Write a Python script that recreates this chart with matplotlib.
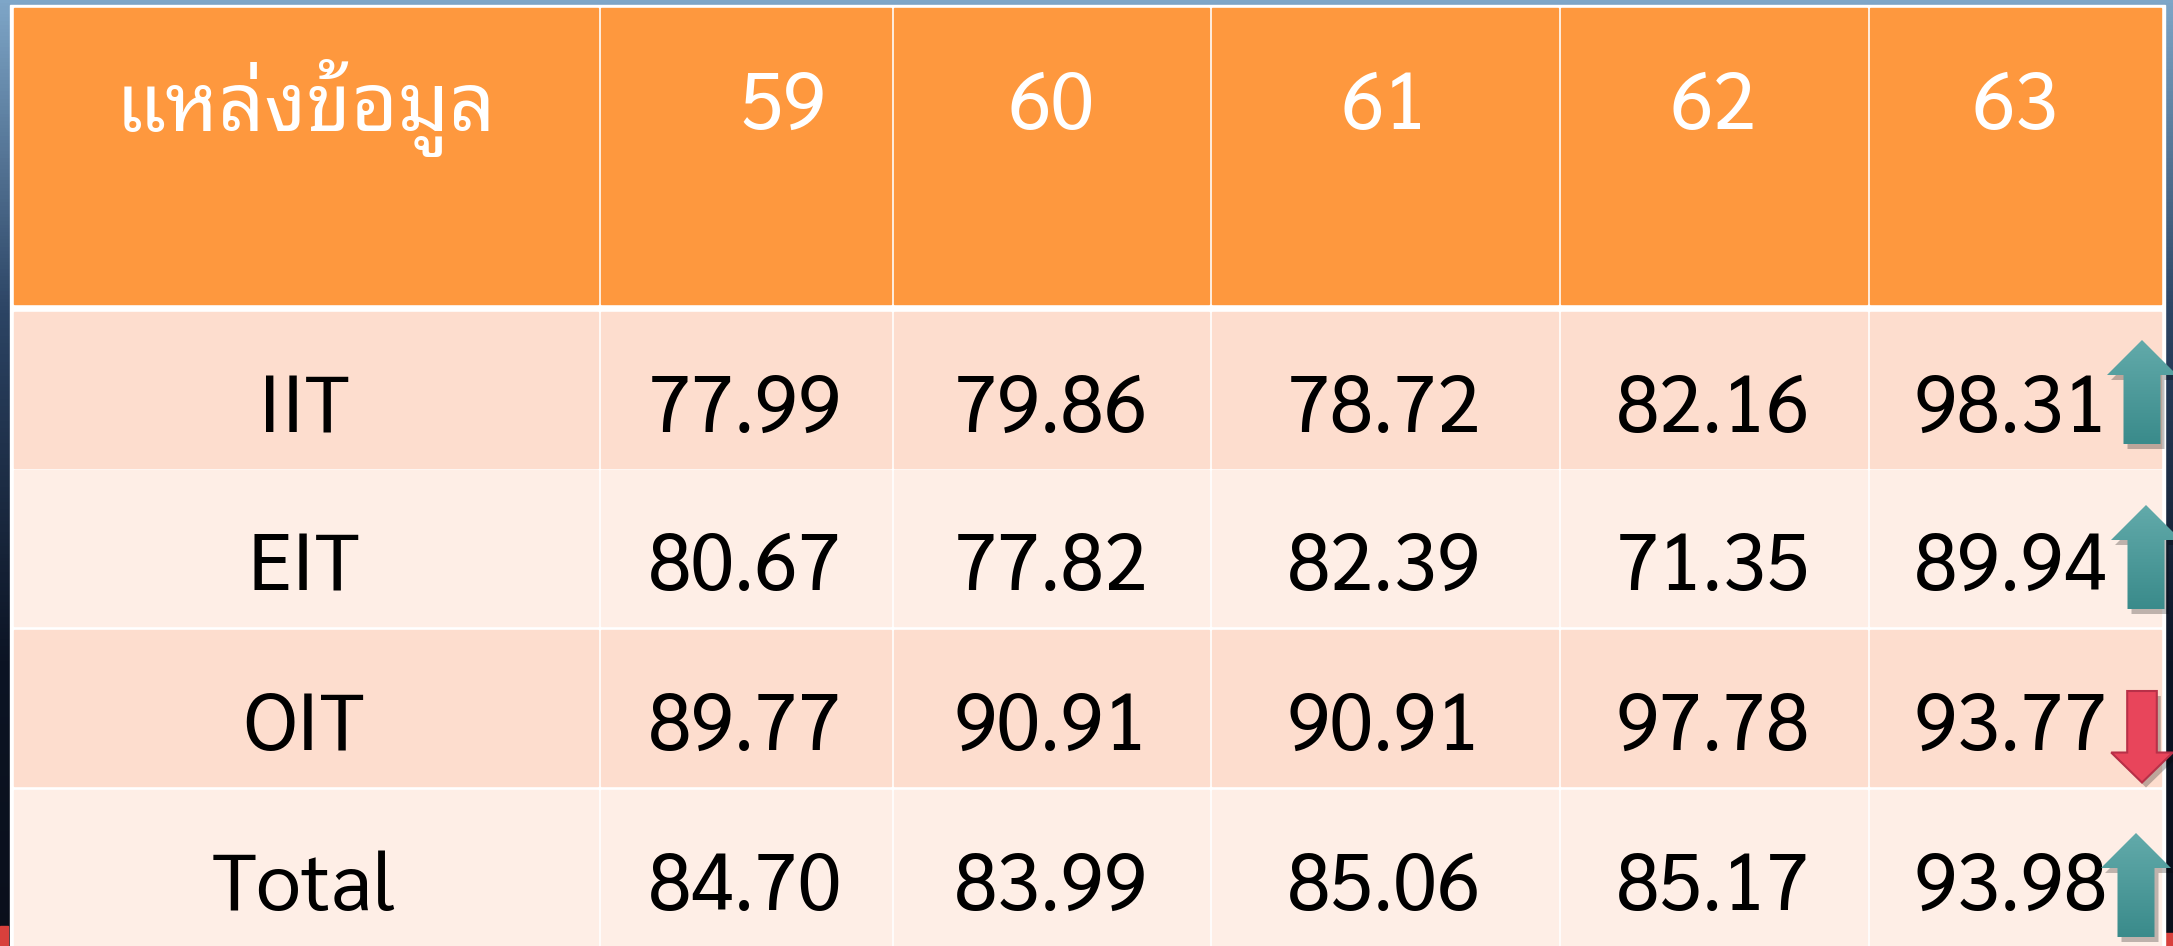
import numpy as np
import matplotlib
matplotlib.use("Agg")
import matplotlib.pyplot as plt
from matplotlib.colors import LinearSegmentedColormap
from matplotlib.patches import Rectangle, Polygon

# data
header_label = "แหล่งข้อมูล"
years = ["59", "60", "61", "62", "63"]
sources = ["IIT", "EIT", "OIT", "Total"]
y59 = [77.99, 80.67, 89.77, 84.70]
y60 = [79.86, 77.82, 90.91, 83.99]
y61 = [78.72, 82.39, 90.91, 85.06]
y62 = [82.16, 71.35, 97.78, 85.17]
y63 = [98.31, 89.94, 93.77, 93.98]
columns = [y59, y60, y61, y62, y63]

ORANGE = "#FE983E"
ROW_DARK = "#FDDDCE"
ROW_LIGHT = "#FEEEE6"
TEAL_TOP, TEAL_BOT = "#62AAAA", "#3A8B8B"
RED = "#E8455B"

W, H = 2173, 946
fig = plt.figure(figsize=(W / 100, H / 100), dpi=100)
ax = fig.add_axes([0, 0, 1, 1])
ax.set_xlim(0, W)
ax.set_ylim(H, 0)
ax.axis("off")

# slide background gradient
bg = LinearSegmentedColormap.from_list(
    "bg", [(0, "#7EA6C8"), (0.33, "#2C4464"), (0.7, "#0C1424"), (1, "#0A0F1B")])
ax.imshow(np.linspace(0, 1, 256).reshape(-1, 1), cmap=bg, aspect="auto",
          extent=(0, W, H, 0), zorder=0)
ax.add_patch(Rectangle((0, 926), 8, 20, color="#D8403C", zorder=1))
ax.add_patch(Rectangle((2164, 933), 9, 13, color="#D8403C", zorder=1))

# table frame
xe = [12, 599, 892, 1210, 1559, 1868, 2162]
row_tops = [312, 470, 630, 790]
row_h = 156
ax.add_patch(Rectangle((9.5, 5.5), 2155, H, color="white", zorder=1))
for i in range(6):
    ax.add_patch(Rectangle((xe[i] + 1.5, 8), xe[i + 1] - xe[i] - 3, 296,
                           color=ORANGE, zorder=2))
    for r, top in enumerate(row_tops):
        ax.add_patch(Rectangle((xe[i] + 1.5, top), xe[i + 1] - xe[i] - 3, row_h,
                               color=ROW_DARK if r % 2 == 0 else ROW_LIGHT, zorder=2))

thai = ["Noto Sans Thai Looped", "Sarabun"]
num = ["Sarabun", "DejaVu Sans"]
ax.text(306, 131, header_label, family=thai, fontsize=58,
        color="white", ha="center", va="baseline", zorder=3)
hx = [783, 1051, 1384, 1713, 2015]
for x, yr in zip(hx, years):
    ax.text(x, 129, yr, family=num, fontsize=57, color="white",
            ha="center", va="baseline", zorder=3)

cx = [304, 745, 1051, 1384, 1713, 2011]
for r, top in enumerate(row_tops):
    base = top + 120
    ax.text(cx[0], base, sources[r], family=num, fontsize=58, color="black",
            ha="center", va="baseline", zorder=3)
    for c, vals in enumerate(columns):
        ax.text(cx[c + 1], base, f"{vals[r]:.2f}", family=num, fontsize=57,
                color="black", ha="center", va="baseline", zorder=3)

# trend arrows (last year vs previous)
arrow_x = [2142, 2146, 2142, 2136]
arrow_off = [28, 35, 61, 43]
shaft_w, head_w, head_l, length = 37, 70, 35, 104


def arrow_poly(xc, y0, up):
    if up:
        pts = [(xc, y0), (xc + head_w / 2, y0 + head_l), (xc + shaft_w / 2, y0 + head_l),
               (xc + shaft_w / 2, y0 + length), (xc - shaft_w / 2, y0 + length),
               (xc - shaft_w / 2, y0 + head_l), (xc - head_w / 2, y0 + head_l)]
    else:
        yb = y0 + length * 0.88
        pts = [(xc - shaft_w * 0.4, y0), (xc + shaft_w * 0.4, y0),
               (xc + shaft_w * 0.4, yb - 30), (xc + head_w * 0.44, yb - 30),
               (xc, yb), (xc - head_w * 0.44, yb - 30), (xc - shaft_w * 0.4, yb - 30)]
    return np.array(pts)


grad = LinearSegmentedColormap.from_list("teal", [TEAL_TOP, TEAL_BOT])
for r, top in enumerate(row_tops):
    up = y63[r] > y62[r]
    pts = arrow_poly(arrow_x[r], top + arrow_off[r], up)
    shadow = Polygon(pts + [4, 5], closed=True, color="black", alpha=0.25,
                     lw=0, zorder=4)
    ax.add_patch(shadow)
    if up:
        poly = Polygon(pts, closed=True, facecolor="none", lw=0, zorder=5)
        ax.add_patch(poly)
        im = ax.imshow(np.linspace(0, 1, 64).reshape(-1, 1), cmap=grad,
                       aspect="auto", zorder=5,
                       extent=(pts[:, 0].min(), pts[:, 0].max(),
                               pts[:, 1].max(), pts[:, 1].min()))
        im.set_clip_path(poly)
    else:
        ax.add_patch(Polygon(pts, closed=True, facecolor=RED,
                             edgecolor="#B83048", lw=1.5, zorder=5))

ax.set_xlim(0, W)
ax.set_ylim(H, 0)
fig.savefig("out.png", dpi=100)
